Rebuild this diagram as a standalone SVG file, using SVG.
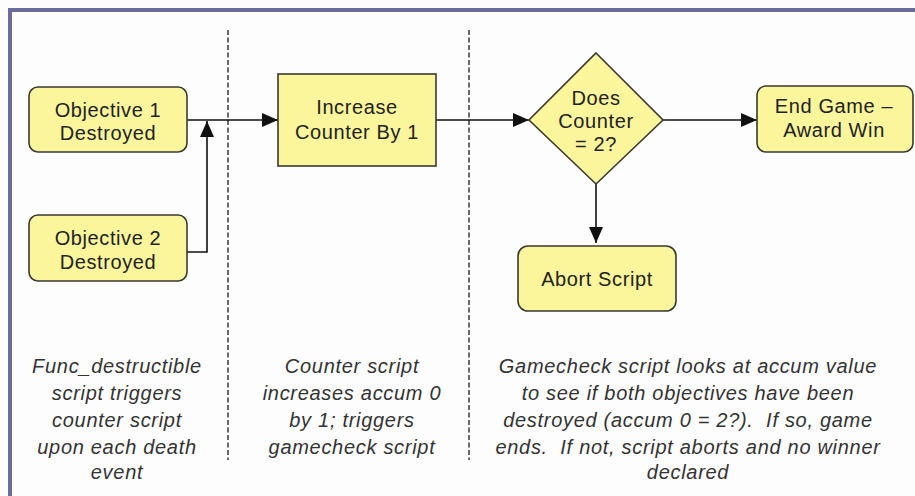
<svg xmlns="http://www.w3.org/2000/svg" width="915" height="496" viewBox="0 0 915 496">
  <style>
    .node { fill: #fbf69c; stroke: #3a3a30; stroke-width: 1.6; }
    .label { font-family: "Liberation Sans", Arial, sans-serif; font-size: 20px; letter-spacing: 0.6px; fill: #222; text-anchor: middle; }
    .note { font-family: "Liberation Sans", Arial, sans-serif; font-size: 20px; font-style: italic; letter-spacing: 0.7px; fill: #333; text-anchor: middle; }
    .edge { fill: none; stroke: #111; stroke-width: 1.6; }
    .lane { stroke: #444; stroke-width: 1.6; stroke-dasharray: 5 2.5; }
  </style>
  <defs>
    <marker id="arrow" viewBox="0 0 16 14" refX="16" refY="7" markerWidth="16" markerHeight="14" markerUnits="userSpaceOnUse" orient="auto">
      <path d="M0,0 L16,7 L0,14 Z" fill="#111"/>
    </marker>
  </defs>

  <!-- page background and frame -->
  <rect x="0" y="0" width="915" height="496" fill="#fdfdfd"/>
  <rect x="8" y="8" width="907" height="4" fill="#6b6b9c"/>
  <rect x="8" y="8" width="4" height="488" fill="#6b6b9c"/>

  <!-- swimlane separators -->
  <g id="lanes">
    <line class="lane" x1="228" y1="30" x2="228" y2="460"/>
    <line class="lane" x1="469" y1="30" x2="469" y2="460"/>
  </g>

  <!-- connectors -->
  <g id="connectors">
    <line class="edge" x1="187" y1="120" x2="278" y2="120" marker-end="url(#arrow)"/>
    <polyline class="edge" points="187,252 207,252 207,121" marker-end="url(#arrow)"/>
    <line class="edge" x1="436" y1="120" x2="529" y2="120" marker-end="url(#arrow)"/>
    <line class="edge" x1="663" y1="120" x2="757" y2="120" marker-end="url(#arrow)"/>
    <line class="edge" x1="596" y1="184" x2="596" y2="243" marker-end="url(#arrow)"/>
  </g>

  <g id="objective1">
    <rect class="node" x="29" y="87" width="158" height="65" rx="9"/>
    <text class="label" x="108" y="117">Objective 1</text>
    <text class="label" x="108" y="140">Destroyed</text>
  </g>

  <g id="objective2">
    <rect class="node" x="29" y="215" width="158" height="66" rx="9"/>
    <text class="label" x="108" y="245">Objective 2</text>
    <text class="label" x="108" y="269">Destroyed</text>
  </g>

  <g id="increase-counter">
    <rect class="node" x="278" y="74" width="158" height="92"/>
    <text class="label" x="357" y="114">Increase</text>
    <text class="label" x="357" y="139">Counter By 1</text>
  </g>

  <g id="counter-check">
    <polygon class="node" points="596,53 663,120 596,184 529,120"/>
    <text class="label" x="596" y="105">Does</text>
    <text class="label" x="596" y="128">Counter</text>
    <text class="label" x="596" y="151">= 2?</text>
  </g>

  <g id="end-game">
    <rect class="node" x="757" y="86" width="156" height="66" rx="9"/>
    <text class="label" x="834" y="113">End Game –</text>
    <text class="label" x="834" y="137">Award Win</text>
  </g>

  <g id="abort-script">
    <rect class="node" x="518" y="246" width="158" height="65" rx="10"/>
    <text class="label" x="597" y="286">Abort Script</text>
  </g>

  <!-- lane descriptions -->
  <g id="note-left">
    <text class="note" x="117" y="373">Func_destructible</text>
    <text class="note" x="117" y="400">script triggers</text>
    <text class="note" x="117" y="427">counter script</text>
    <text class="note" x="117" y="454">upon each death</text>
    <text class="note" x="117" y="479">event</text>
  </g>
  <g id="note-middle">
    <text class="note" x="352" y="373">Counter script</text>
    <text class="note" x="352" y="400">increases accum 0</text>
    <text class="note" x="352" y="427">by 1; triggers</text>
    <text class="note" x="352" y="454">gamecheck script</text>
  </g>
  <g id="note-right">
    <text class="note" x="688" y="373">Gamecheck script looks at accum value</text>
    <text class="note" x="688" y="400">to see if both objectives have been</text>
    <text class="note" x="688" y="427" xml:space="preserve">destroyed (accum 0 = 2?).  If so, game</text>
    <text class="note" x="688" y="454" xml:space="preserve">ends.  If not, script aborts and no winner</text>
    <text class="note" x="688" y="479">declared</text>
  </g>
</svg>
